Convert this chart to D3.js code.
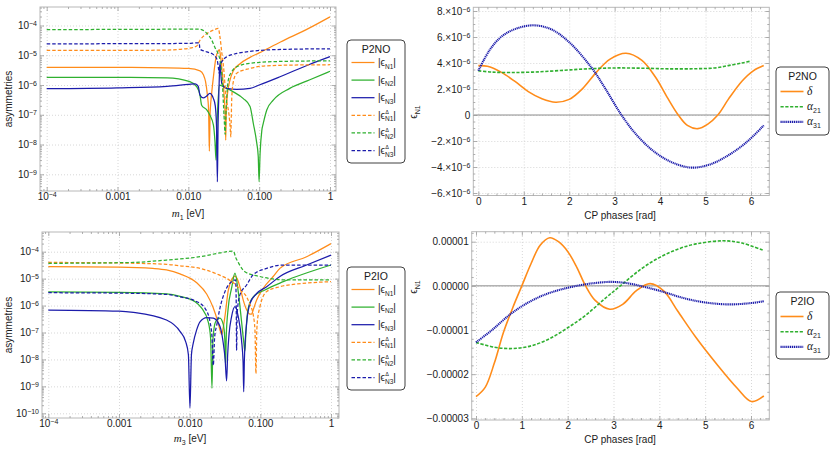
<!DOCTYPE html>
<html><head><meta charset="utf-8">
<script src="https://cdn.jsdelivr.net/npm/d3@7"></script>
<style>
body{margin:0;background:#fff;}
svg{display:block;font-family:"Liberation Sans",Arial,"DejaVu Sans",sans-serif;}
</style></head><body>
<svg id="chart" width="830" height="451"></svg>
<script>
// ---------------- data ----------------
const massTicks = [1e-4, 1e-3, 1e-2, 1e-1, 1];
const massTickLabels = ["10^-4", "0.001", "0.010", "0.100", "1"];
const p2noAsymTicks = [1e-4, 1e-5, 1e-6, 1e-7, 1e-8, 1e-9];
const p2noAsymTickLabels = ["10^-4", "10^-5", "10^-6", "10^-7", "10^-8", "10^-9"];
const p2ioAsymTicks = [1e-4, 1e-5, 1e-6, 1e-7, 1e-8, 1e-9, 1e-10];
const p2ioAsymTickLabels = ["10^-4", "10^-5", "10^-6", "10^-7", "10^-8", "10^-9", "10^-10"];
const phaseTicks = [0, 1, 2, 3, 4, 5, 6];
const phaseTickLabels = ["0", "1", "2", "3", "4", "5", "6"];
const p2noEpsTicks = [8e-6, 6e-6, 4e-6, 2e-6, 0, -2e-6, -4e-6, -6e-6];
const p2noEpsTickLabels = ["8.×10^-6", "6.×10^-6", "4.×10^-6", "2.×10^-6", "0", "−2.×10^-6", "−4.×10^-6", "−6.×10^-6"];
const p2ioEpsTicks = [1e-5, 0, -1e-5, -2e-5, -3e-5];
const p2ioEpsTickLabels = ["0.00001", "0.00000", "−0.00001", "−0.00002", "−0.00003"];

const panelTitles = ["P2NO", "P2IO"];
const asymLegendSubs = ["N1", "N2", "N3", "N1", "N2", "N3"];
const asymLegendDelta = [false, false, false, true, true, true];
const phaseLegendNames = ["δ", "α", "α"];
const phaseLegendSubs = ["", "21", "31"];

// P2NO: asymmetries vs m1 [eV]
const p2noEpsN1 = [[1e-4,3.9e-6],[1e-3,3.9e-6],[5e-3,3.8e-6],[0.01,3.6e-6],[0.0146,3.0e-6],[0.0163,2.2e-6],[0.0175,1.3e-6],[0.0185,5e-7],[0.0193,1.5e-7],[0.0198,6e-9],[0.0203,1.2e-7],[0.0213,5e-7],[0.0226,1.9e-6],[0.0246,8.7e-6],[0.0265,1.4e-5],[0.0274,1.55e-5],[0.0287,8e-6],[0.0302,2.5e-6],[0.0319,5e-7],[0.0330,1.2e-7],[0.0337,1.4e-8],[0.0344,1.5e-7],[0.0360,6e-7],[0.0388,1.5e-6],[0.0432,3e-6],[0.0537,5.2e-6],[0.0743,8.5e-6],[0.1,1.2e-5],[0.2,2.8e-5],[0.5,8e-5],[1,1.95e-4]];
const p2noEpsN2 = [[1e-4,1.8e-6],[1e-3,1.8e-6],[5e-3,1.75e-6],[0.0105,1.3e-6],[0.0131,8.8e-7],[0.0146,4.6e-7],[0.0154,2.1e-7],[0.0182,1.45e-7],[0.0201,9.8e-8],[0.0226,4.5e-8],[0.0238,1.2e-8],[0.0246,3e-9],[0.0252,3e-8],[0.0257,1e-7],[0.0274,1e-6],[0.0312,8.8e-7],[0.0432,5.9e-7],[0.0598,3.5e-7],[0.0743,1.9e-7],[0.0828,5e-8],[0.092,1.2e-8],[0.097,4e-9],[0.0997,5.6e-10],[0.103,5e-9],[0.109,3e-8],[0.114,5e-8],[0.128,1.45e-7],[0.158,3.1e-7],[0.27,7.7e-7],[0.52,1.5e-6],[1,2.9e-6]];
const p2noEpsN3 = [[1e-4,7.5e-7],[1e-3,8e-7],[5e-3,9e-7],[0.01,1.05e-6],[0.0125,1.1e-6],[0.0138,9e-7],[0.0146,4.6e-7],[0.0163,3.7e-7],[0.018,4.2e-7],[0.0201,5.2e-7],[0.0226,3.5e-7],[0.0240,2e-7],[0.0250,4e-8],[0.0257,5.6e-10],[0.0263,5e-8],[0.0268,3e-7],[0.0274,2e-6],[0.0280,5.5e-6],[0.0287,2.5e-6],[0.0297,1.1e-6],[0.0348,7.7e-7],[0.0483,7.1e-7],[0.0743,7.7e-7],[0.1,1e-6],[0.197,1.9e-6],[0.5,4.8e-6],[1,9e-6]];
const p2noDeltaN1 = [[1e-4,1.45e-5],[1e-3,1.45e-5],[5e-3,1.5e-5],[0.01,1.7e-5],[0.0131,2.05e-5],[0.0146,3.2e-5],[0.0182,5.3e-5],[0.0226,7e-5],[0.0265,8e-5],[0.0280,4e-5],[0.0297,1.2e-5],[0.0312,4.7e-6],[0.0342,3.6e-7],[0.0375,1e-7],[0.0392,3e-8],[0.0397,1.8e-8],[0.0402,5e-8],[0.041,3.6e-7],[0.0432,1.3e-6],[0.0483,2.5e-6],[0.0743,3.6e-6],[0.1,4.2e-6],[0.2,4.6e-6],[1,4.8e-6]];
const p2noDeltaN2 = [[1e-4,7.2e-5],[1e-3,7.4e-5],[0.01,7.5e-5],[0.0146,7.5e-5],[0.0182,5.5e-5],[0.0213,3.3e-5],[0.0238,1.8e-5],[0.0257,1.3e-5],[0.0287,4.7e-6],[0.0302,1.3e-6],[0.0312,2.7e-7],[0.0322,6e-8],[0.0330,2.2e-8],[0.0338,8e-8],[0.0348,3.6e-7],[0.0367,1.5e-6],[0.041,2.8e-6],[0.0483,4.1e-6],[0.0743,5.4e-6],[0.2,6.2e-6],[1,6.5e-6]];
const p2noDeltaN3 = [[1e-4,2.4e-5],[1e-3,2.45e-5],[0.01,2.5e-5],[0.0131,2.6e-5],[0.0142,2.6e-5],[0.0146,1.6e-5],[0.0182,1.3e-5],[0.0226,1.05e-5],[0.0255,7e-6],[0.0265,4e-6],[0.0272,2.5e-6],[0.0280,4.5e-6],[0.0297,6.1e-6],[0.0348,8.9e-6],[0.0483,1.15e-5],[0.0743,1.35e-5],[0.1,1.45e-5],[0.3,1.6e-5],[1,1.65e-5]];

// P2IO: asymmetries vs m3 [eV]
const p2ioEpsN1 = [[1e-4,2.8e-5],[1e-3,2.7e-5],[0.003,2.4e-5],[0.0047,2.1e-5],[0.0073,1.5e-5],[0.0126,7e-6],[0.0174,2.7e-6],[0.0215,8.5e-7],[0.0254,2.2e-7],[0.0272,1.1e-7],[0.0284,8.5e-8],[0.0297,1.4e-7],[0.0316,4e-7],[0.0351,3.5e-6],[0.0392,9e-6],[0.0438,1.25e-5],[0.0470,1e-5],[0.0514,5e-6],[0.0573,1.6e-6],[0.064,7e-7],[0.0713,4.8e-7],[0.0753,4.8e-7],[0.0794,7e-7],[0.0887,1.6e-6],[0.11,4.4e-6],[0.152,1.2e-5],[0.189,2.4e-5],[0.452,6.5e-5],[1,2e-4]];
const p2ioEpsN2 = [[1e-4,3.2e-6],[1e-3,3.1e-6],[0.0047,2.7e-6],[0.0073,2.2e-6],[0.0119,1.4e-6],[0.0148,8e-7],[0.0183,2.5e-7],[0.0198,6e-8],[0.0207,8.5e-10],[0.0214,6e-8],[0.0233,2.5e-7],[0.0268,3.4e-7],[0.0299,2e-7],[0.0314,6e-8],[0.0322,6e-9],[0.0330,8e-8],[0.0351,8e-7],[0.0392,4.4e-6],[0.0438,1.6e-5],[0.0487,3.3e-6],[0.0543,2.5e-7],[0.0585,4e-8],[0.0605,2e-8],[0.0625,1e-7],[0.0674,7.9e-7],[0.0794,2.1e-6],[0.116,3.8e-6],[0.211,7.7e-6],[1,3.2e-5]];
const p2ioEpsN3 = [[1e-4,6.8e-7],[1e-3,6.2e-7],[0.0016,5.6e-7],[0.0047,2.9e-7],[0.0073,1.1e-7],[0.0088,4.5e-8],[0.0096,1.5e-8],[0.0101,1.6e-10],[0.0106,1.5e-8],[0.01125,4e-8],[0.01256,1.25e-7],[0.014,2.5e-7],[0.0174,3.6e-7],[0.0216,3.4e-7],[0.0268,1.7e-7],[0.0299,4e-8],[0.0318,1e-8],[0.0333,1.6e-9],[0.0345,1.5e-8],[0.036,8e-8],[0.0392,3.9e-7],[0.0438,9.1e-7],[0.0487,3.9e-7],[0.0543,5e-8],[0.0570,8e-9],[0.0582,6.3e-10],[0.0595,1e-8],[0.064,2.2e-7],[0.0713,1.2e-6],[0.0887,2.8e-6],[0.123,5e-6],[0.189,1.2e-5],[0.452,3.2e-5],[1,7.5e-5]];
const p2ioDeltaN1 = [[1e-4,4e-5],[1e-3,3.8e-5],[0.0047,3.4e-5],[0.0073,3e-5],[0.014,2.4e-5],[0.0241,1.5e-5],[0.0414,7e-6],[0.0543,3.5e-6],[0.064,2.1e-6],[0.0713,1.1e-6],[0.0794,4.5e-7],[0.0840,1.2e-7],[0.0867,3e-9],[0.0890,1e-7],[0.0904,2.2e-7],[0.0987,9e-7],[0.123,3.3e-6],[0.189,5e-6],[0.45,6.8e-6],[1,7.7e-6]];
const p2ioDeltaN2 = [[1e-4,3.7e-5],[1e-3,3.9e-5],[0.0016,4e-5],[0.0047,4.9e-5],[0.014,6.5e-5],[0.0268,9e-5],[0.0414,1.06e-4],[0.0450,6e-5],[0.0487,4e-5],[0.0605,1.8e-5],[0.0987,1.2e-5],[0.211,9e-6],[1,8.9e-6]];
const p2ioDeltaN3 = [[1e-4,3e-6],[1e-3,2.9e-6],[0.0047,2.6e-6],[0.0073,2.1e-6],[0.0119,1.5e-6],[0.0165,7.9e-7],[0.0194,2.5e-7],[0.0207,7e-8],[0.0216,6e-9],[0.0226,7e-8],[0.0241,1.8e-7],[0.0268,7.9e-7],[0.0316,3.3e-6],[0.0392,7.7e-6],[0.0446,8.9e-6],[0.0455,2e-6],[0.0462,2.2e-8],[0.0470,5e-7],[0.0514,2.5e-6],[0.064,5.8e-6],[0.0794,1.4e-5],[0.123,2.4e-5],[0.211,3.2e-5],[1,3.2e-5]];

// P2NO: eps_N1 vs CP phases [rad]
const p2noPhaseDelta = [[0,3.8e-6],[0.2,3.75e-6],[0.5,3.3e-6],[0.8,2.6e-6],[1.1,1.8e-6],[1.4,1.25e-6],[1.7,0.98e-6],[2.0,1.2e-6],[2.3,2.05e-6],[2.6,3.3e-6],[2.9,4.3e-6],[3.25,4.75e-6],[3.6,4.2e-6],[3.9,2.9e-6],[4.15,1.4e-6],[4.4,0],[4.6,-0.8e-6],[4.83,-1.05e-6],[5.05,-0.7e-6],[5.27,0],[5.5,1.2e-6],[5.8,2.6e-6],[6.05,3.4e-6],[6.28,3.8e-6]];
const p2noPhaseA21 = [[0,3.4e-6],[0.3,3.3e-6],[0.7,3.27e-6],[1.2,3.3e-6],[1.8,3.42e-6],[2.4,3.55e-6],[3.0,3.62e-6],[3.6,3.6e-6],[4.2,3.55e-6],[4.8,3.56e-6],[5.2,3.62e-6],[5.5,3.8e-6],[5.8,4.0e-6],[6.0,4.15e-6]];
const p2noPhaseA31 = [[0,3.4e-6],[0.25,5.0e-6],[0.5,6.0e-6],[0.8,6.6e-6],[1.2,6.9e-6],[1.6,6.6e-6],[2.0,5.6e-6],[2.5,3.6e-6],[2.8,2.0e-6],[3.15,0],[3.5,-1.6e-6],[3.9,-2.9e-6],[4.3,-3.7e-6],[4.7,-4.05e-6],[5.1,-3.8e-6],[5.5,-3.1e-6],[5.9,-2.1e-6],[6.28,-0.8e-6]];

// P2IO: eps_N1 vs CP phases [rad]
const p2ioPhaseDelta = [[0,-2.51e-5],[0.2,-2.3e-5],[0.4,-1.75e-5],[0.6,-1.05e-5],[0.8,-0.5e-5],[1.0,0],[1.2,0.5e-5],[1.4,0.92e-5],[1.61,1.09e-5],[1.8,1.0e-5],[2.0,0.78e-5],[2.2,0.42e-5],[2.38,0.02e-5],[2.6,-0.33e-5],[2.92,-0.53e-5],[3.2,-0.42e-5],[3.5,-0.11e-5],[3.8,0.05e-5],[4.1,-0.12e-5],[4.4,-0.57e-5],[4.8,-1.17e-5],[5.25,-1.77e-5],[5.7,-2.32e-5],[6.01,-2.62e-5],[6.28,-2.49e-5]];
const p2ioPhaseA21 = [[0,-1.28e-5],[0.4,-1.39e-5],[0.8,-1.42e-5],[1.2,-1.36e-5],[1.6,-1.2e-5],[2.0,-0.95e-5],[2.4,-0.66e-5],[2.8,-0.3e-5],[3.15,0],[3.6,0.38e-5],[4.0,0.64e-5],[4.4,0.83e-5],[4.8,0.95e-5],[5.4,1.02e-5],[5.8,0.97e-5],[6.28,0.8e-5]];
const p2ioPhaseA31 = [[0,-1.28e-5],[0.35,-1.0e-5],[0.74,-0.65e-5],[1.1,-0.4e-5],[1.5,-0.2e-5],[1.9,-0.07e-5],[2.3,0.02e-5],[2.65,0.07e-5],[2.95,0.09e-5],[3.3,0.06e-5],[3.7,-0.03e-5],[4.1,-0.14e-5],[4.5,-0.27e-5],[4.9,-0.36e-5],[5.3,-0.41e-5],[5.6,-0.42e-5],[6.0,-0.39e-5],[6.28,-0.35e-5]];

// ---------------- styling ----------------
const ORANGE = "#ff8c1a", GREEN = "#2fb02f", BLUE = "#1c1cab";
const TXT = "#1a1a1a";
const svg = d3.select("#chart");
const defs = svg.append("defs");

function styleForIndex(i, kind) {
  const c = [ORANGE, GREEN, BLUE][i % 3];
  if (kind === "asym") return {color: c, width: 1.25, dash: i >= 3 ? "3.5,2" : null};
  if (i === 0) return {color: ORANGE, width: 1.6, dash: null};
  if (i === 1) return {color: GREEN, width: 1.6, dash: "3.2,1.6"};
  return {color: BLUE, width: 2.1, dash: "1.2,0.7"};
}

function setLabel(textSel, lab) {
  textSel.text(null);
  const parts = lab.split("^");
  textSel.append("tspan").text(parts[0]);
  if (parts.length > 1) {
    textSel.append("tspan").attr("dy", "-0.45em").attr("font-size", 7).text(parts[1].replace("-", "−"));
  }
}

function logMinor(scale, lo, hi) {
  const out = [];
  for (let e = -11; e <= 1; e++) for (let k = 2; k <= 9; k++) {
    const v = k * Math.pow(10, e);
    const p = scale(v);
    if (p > lo + 0.5 && p < hi - 0.5) out.push(v);
  }
  return out;
}
function linMinor(scale, step, majors, lo, hi) {
  const out = [];
  const d = scale.domain();
  const a = Math.min(d[0], d[1]) - 5 * step, b = Math.max(d[0], d[1]) + 5 * step;
  for (let v = Math.ceil(a / step) * step; v <= b; v += step) {
    const vv = +v.toPrecision(10);
    if (majors.some(m => Math.abs(m - vv) < step * 1e-3)) continue;
    const p = scale(vv);
    if (p > lo + 0.5 && p < hi - 0.5) out.push(vv);
  }
  return out;
}

function drawPanel(cfg) {
  const {box, x, y, id} = cfg;
  const W = box.r - box.l, H = box.b - box.t;
  const g = svg.append("g");
  defs.append("clipPath").attr("id", "clip" + id).append("rect")
    .attr("x", box.l).attr("y", box.t).attr("width", W).attr("height", H);

  const gridStyle = s => {
    s.select(".domain").remove();
    s.selectAll("line").attr("stroke", "#cdcdcd").attr("stroke-width", 0.8).attr("stroke-dasharray", "1,2");
  };
  g.append("g").attr("transform", `translate(0,${box.b})`)
    .call(d3.axisBottom(x).tickValues(cfg.xTicks).tickSize(-H).tickFormat(""))
    .call(gridStyle);
  g.append("g").attr("transform", `translate(${box.l},0)`)
    .call(d3.axisLeft(y).tickValues(cfg.yTicks).tickSize(-W).tickFormat(""))
    .call(gridStyle);

  if (cfg.zeroLine) {
    g.append("line").attr("x1", box.l).attr("x2", box.r)
      .attr("y1", y(0)).attr("y2", y(0)).attr("stroke", "#8c8c8c").attr("stroke-width", 1);
  }

  const line = d3.line().x(d => x(d[0])).y(d => y(d[1])).curve(cfg.curve);
  const curvesG = g.append("g").attr("clip-path", `url(#clip${id})`);
  cfg.series.forEach((data, i) => {
    const st = styleForIndex(i, cfg.kind);
    curvesG.append("path").attr("d", line(data)).attr("fill", "none")
      .attr("stroke", st.color).attr("stroke-width", st.width)
      .attr("stroke-dasharray", st.dash).attr("stroke-linejoin", "round");
  });

  g.append("rect").attr("x", box.l).attr("y", box.t).attr("width", W).attr("height", H)
    .attr("fill", "none").attr("stroke", "#b8b8b8").attr("stroke-width", 1);

  const tickStyle = s => {
    s.select(".domain").remove();
    s.selectAll("line").attr("stroke", "#9a9a9a").attr("stroke-width", 0.8);
    s.selectAll("text").attr("fill", TXT).attr("font-size", 10)
      .attr("font-family", '"Liberation Sans", Arial, sans-serif');
  };
  const xMinor = cfg.xMinor, yMinor = cfg.yMinor;

  // bottom
  const bx = g.append("g").attr("transform", `translate(0,${box.b})`)
    .call(d3.axisBottom(x).tickValues(cfg.xTicks).tickSize(-4).tickPadding(2).tickFormat((d, i) => cfg.xLabels[i]))
    .call(tickStyle);
  bx.selectAll(".tick text").each(function(d, i) { setLabel(d3.select(this), cfg.xLabels[i]); });
  g.append("g").attr("transform", `translate(0,${box.b})`)
    .call(d3.axisBottom(x).tickValues(xMinor).tickSize(-2).tickFormat("")).call(tickStyle);
  // top
  g.append("g").attr("transform", `translate(0,${box.t})`)
    .call(d3.axisTop(x).tickValues(cfg.xTicks).tickSize(-4).tickFormat("")).call(tickStyle);
  g.append("g").attr("transform", `translate(0,${box.t})`)
    .call(d3.axisTop(x).tickValues(xMinor).tickSize(-2).tickFormat("")).call(tickStyle);
  // left
  const ly = g.append("g").attr("transform", `translate(${box.l},0)`)
    .call(d3.axisLeft(y).tickValues(cfg.yTicks).tickSize(-4).tickPadding(3).tickFormat((d, i) => cfg.yLabels[i]))
    .call(tickStyle);
  ly.selectAll(".tick text").each(function(d, i) { setLabel(d3.select(this), cfg.yLabels[i]); });
  g.append("g").attr("transform", `translate(${box.l},0)`)
    .call(d3.axisLeft(y).tickValues(yMinor).tickSize(-2).tickFormat("")).call(tickStyle);
  // right
  g.append("g").attr("transform", `translate(${box.r},0)`)
    .call(d3.axisRight(y).tickValues(cfg.yTicks).tickSize(-4).tickFormat("")).call(tickStyle);
  g.append("g").attr("transform", `translate(${box.r},0)`)
    .call(d3.axisRight(y).tickValues(yMinor).tickSize(-2).tickFormat("")).call(tickStyle);
}

function axisTitle(x, y, rotate, build) {
  const t = svg.append("text").attr("font-size", 10).attr("fill", TXT)
    .attr("text-anchor", "middle")
    .attr("transform", `translate(${x},${y})` + (rotate ? " rotate(-90)" : ""));
  build(t);
}
const massTitle = sub => t => {
  t.append("tspan").attr("font-style", "italic").attr("font-family", '"Liberation Serif", serif').attr("font-size", 11).text("m");
  t.append("tspan").attr("font-size", 7).attr("dy", 2.5).text(sub);
  t.append("tspan").attr("dy", -2.5).text(" [eV]");
};
const epsTitle = t => {
  t.append("tspan").text("ϵ");
  t.append("tspan").attr("font-size", 7).attr("dy", 2.5).text("N1");
};

function drawLegend(bx, by, bw, bh, title, titleY, rows, rowY0, rowStep, kind) {
  const g = svg.append("g");
  g.append("rect").attr("x", bx).attr("y", by).attr("width", bw).attr("height", bh)
    .attr("rx", 4).attr("fill", "#fff").attr("stroke", "#404040").attr("stroke-width", 1);
  g.append("text").attr("x", bx + bw / 2).attr("y", titleY).attr("text-anchor", "middle")
    .attr("font-size", 10.5).attr("fill", TXT).text(title);
  rows.forEach((r, i) => {
    const yy = rowY0 + i * rowStep;
    const st = styleForIndex(i, kind);
    g.append("line").attr("x1", bx + 4.5).attr("x2", bx + 27.5).attr("y1", yy).attr("y2", yy)
      .attr("stroke", st.color).attr("stroke-width", st.width).attr("stroke-dasharray", st.dash);
    const t = g.append("text").attr("x", bx + 31).attr("y", yy + 3.5).attr("fill", TXT).attr("font-size", 10);
    if (kind === "asym") {
      t.append("tspan").text("|ϵ");
      t.append("tspan").attr("font-size", 6.5).attr("dy", 2.5).text(r.sub);
      t.append("tspan").attr("dy", -2.5).text("|");
      if (r.delta) {
        const px = t.node().getStartPositionOfChar(2).x;
        g.append("text").attr("x", px + 0.3).attr("y", yy - 1.2).attr("font-size", 5.5)
          .attr("fill", TXT).text("Δ");
      }
    } else {
      t.append("tspan").attr("font-family", '"Liberation Serif", serif').attr("font-style", "italic")
        .attr("font-size", 11.5).text(r.name);
      if (r.sub) t.append("tspan").attr("font-size", 7).attr("dy", 2.5).text(r.sub);
    }
  });
}

// ---------------- panels ----------------
// top-left: P2NO asymmetries
{
  const box = {l: 40, r: 336, t: 7, b: 191};
  const x = d3.scaleLog().domain([1e-4, 1]).range([46.7, 330]);
  const y = d3.scaleLog().domain([1e-4, 1e-9]).range([25.5, 174.3]);
  drawPanel({id: "tl", box, x, y, kind: "asym", curve: d3.curveMonotoneX,
    xTicks: massTicks, xLabels: massTickLabels, yTicks: p2noAsymTicks, yLabels: p2noAsymTickLabels,
    xMinor: logMinor(x, box.l, box.r), yMinor: logMinor(y, box.t, box.b),
    series: [p2noEpsN1, p2noEpsN2, p2noEpsN3, p2noDeltaN1, p2noDeltaN2, p2noDeltaN3]});
  axisTitle(12, 99, true, t => t.text("asymmetries"));
  axisTitle(188, 217, false, massTitle("1"));
}
// bottom-left: P2IO asymmetries
{
  const box = {l: 42, r: 339, t: 232, b: 418};
  const x = d3.scaleLog().domain([1e-4, 1]).range([48.3, 331]);
  const y = d3.scaleLog().domain([1e-4, 1e-10]).range([251.7, 413.3]);
  drawPanel({id: "bl", box, x, y, kind: "asym", curve: d3.curveMonotoneX,
    xTicks: massTicks, xLabels: massTickLabels, yTicks: p2ioAsymTicks, yLabels: p2ioAsymTickLabels,
    xMinor: logMinor(x, box.l, box.r), yMinor: logMinor(y, box.t, box.b),
    series: [p2ioEpsN1, p2ioEpsN2, p2ioEpsN3, p2ioDeltaN1, p2ioDeltaN2, p2ioDeltaN3]});
  axisTitle(12, 325, true, t => t.text("asymmetries"));
  axisTitle(190, 442, false, massTitle("3"));
}
// top-right: P2NO phases
{
  const box = {l: 473.3, r: 769.3, t: 7.3, b: 195.5};
  const x = d3.scaleLinear().domain([0, 6]).range([478.3, 751]);
  const y = d3.scaleLinear().domain([-6e-6, 8e-6]).range([193, 11]);
  drawPanel({id: "tr", box, x, y, kind: "phase", zeroLine: true, curve: d3.curveCatmullRom.alpha(0.5),
    xTicks: phaseTicks, xLabels: phaseTickLabels, yTicks: p2noEpsTicks, yLabels: p2noEpsTickLabels,
    xMinor: linMinor(x, 0.2, phaseTicks, box.l, box.r), yMinor: linMinor(y, 0.5e-6, p2noEpsTicks, box.t, box.b),
    series: [p2noPhaseDelta, p2noPhaseA21, p2noPhaseA31]});
  axisTitle(417, 112, true, epsTitle);
  axisTitle(620, 218.5, false, t => t.text("CP phases [rad]"));
}
// bottom-right: P2IO phases
{
  const box = {l: 471.7, r: 769.3, t: 231.7, b: 420};
  const x = d3.scaleLinear().domain([0, 6]).range([476, 751]);
  const y = d3.scaleLinear().domain([-3e-5, 1e-5]).range([418.3, 241.7]);
  drawPanel({id: "br", box, x, y, kind: "phase", zeroLine: true, curve: d3.curveCatmullRom.alpha(0.5),
    xTicks: phaseTicks, xLabels: phaseTickLabels, yTicks: p2ioEpsTicks, yLabels: p2ioEpsTickLabels,
    xMinor: linMinor(x, 0.2, phaseTicks, box.l, box.r), yMinor: linMinor(y, 0.2e-5, p2ioEpsTicks, box.t, box.b),
    series: [p2ioPhaseDelta, p2ioPhaseA21, p2ioPhaseA31]});
  axisTitle(417, 287, true, epsTitle);
  axisTitle(620, 442.5, false, t => t.text("CP phases [rad]"));
}

// ---------------- legends ----------------
const asymRows = asymLegendSubs.map((s, i) => ({sub: s, delta: asymLegendDelta[i]}));
const phaseRows = phaseLegendNames.map((n, i) => ({name: n, sub: phaseLegendSubs[i]}));
drawLegend(347, 40, 58, 123, panelTitles[0], 53, asymRows, 62.5, 17.6, "asym");
drawLegend(347, 267, 58, 123, panelTitles[1], 280, asymRows, 289.5, 17.6, "asym");
drawLegend(776, 67, 53, 68, panelTitles[0], 80, phaseRows, 91.5, 15.2, "phase");
drawLegend(776, 292, 53, 67, panelTitles[1], 305, phaseRows, 316.5, 15.2, "phase");
</script></body></html>
